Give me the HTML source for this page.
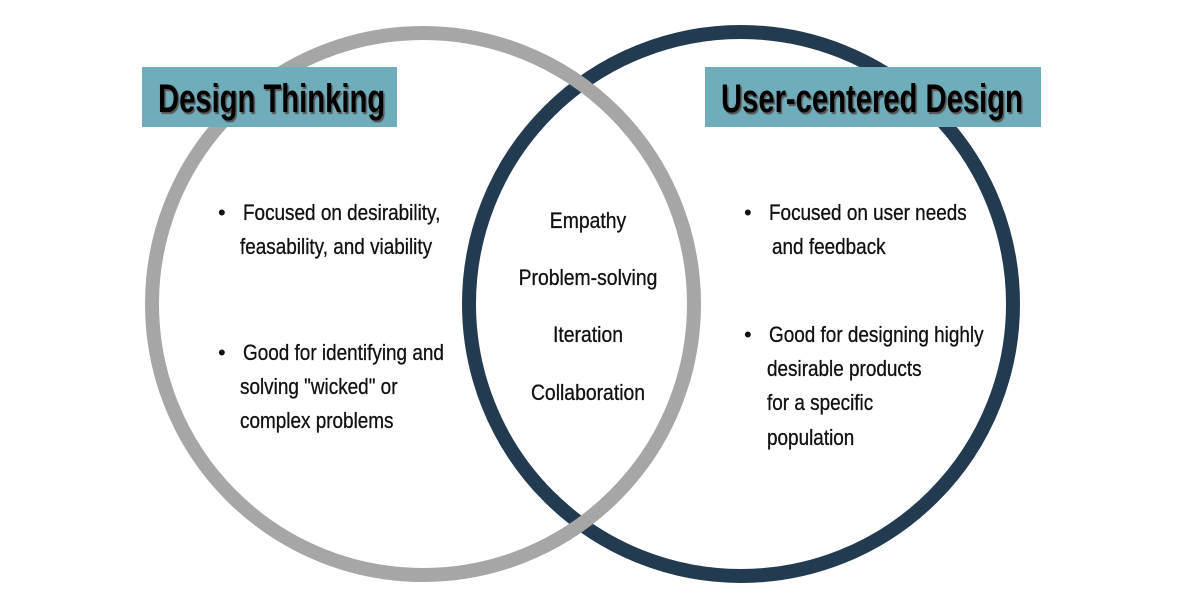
<!DOCTYPE html>
<html><head><style>
body{margin:0;background:#fff;}
.w{position:relative;width:1200px;height:600px;overflow:hidden;font-family:"Liberation Sans",sans-serif;}
.l{position:absolute;color:#111;font-size:22px;line-height:26px;white-space:nowrap;transform:scaleX(0.86);transform-origin:0 0;-webkit-text-stroke:0.3px #111;}
.c{position:absolute;left:488px;width:200px;text-align:center;color:#111;font-size:22px;line-height:26px;white-space:nowrap;transform:scaleX(0.88);-webkit-text-stroke:0.3px #111;}
.b{position:absolute;font-size:22px;line-height:26px;color:#111;}
.box{position:absolute;background:#70adba;height:60px;top:67px;}
.box span{position:absolute;top:10px;left:16px;font-size:40px;line-height:44px;font-weight:bold;color:#000;white-space:nowrap;text-shadow:2px 2px 1px #555;transform:scaleX(0.73);transform-origin:0 0;}
</style></head><body><div class="w">
<svg width="1200" height="600" style="position:absolute;left:0;top:0">
<circle cx="741" cy="304" r="272" fill="none" stroke="#223b50" stroke-width="14"/>
<circle cx="423" cy="304" r="271" fill="none" stroke="#a6a6a6" stroke-width="14"/>
</svg>
<div class="box" style="left:142px;width:255px"><span>Design Thinking</span></div>
<div class="box" style="left:705px;width:336px"><span>User-centered Design</span></div>

<div class="b" style="left:218px;top:200px">•</div>
<div class="l" style="left:243px;top:200px">Focused on desirability,</div>
<div class="l" style="left:240px;top:234px">feasability, and viability</div>
<div class="b" style="left:218px;top:340px">•</div>
<div class="l" style="left:243px;top:340px">Good for identifying and</div>
<div class="l" style="left:240px;top:374px">solving "wicked" or</div>
<div class="l" style="left:240px;top:408px">complex problems</div>

<div class="c" style="top:208px">Empathy</div>
<div class="c" style="top:265px">Problem-solving</div>
<div class="c" style="top:322px">Iteration</div>
<div class="c" style="top:380px">Collaboration</div>

<div class="b" style="left:744px;top:200px">•</div>
<div class="l" style="left:769px;top:200px">Focused on user needs</div>
<div class="l" style="left:772px;top:234px">and feedback</div>
<div class="b" style="left:744px;top:322px">•</div>
<div class="l" style="left:769px;top:322px">Good for designing highly</div>
<div class="l" style="left:767px;top:356px">desirable products</div>
<div class="l" style="left:767px;top:390px">for a specific</div>
<div class="l" style="left:767px;top:425px">population</div>
</div></body></html>
